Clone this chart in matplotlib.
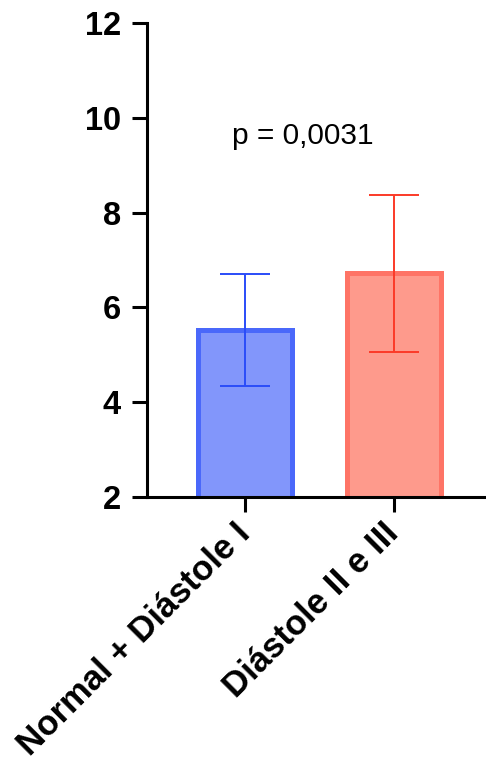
import numpy as np
import matplotlib.pyplot as plt

plt.rcParams['font.family'] = ['Liberation Sans', 'DejaVu Sans']

# === Data ===
groups = ["Normal + Diástole I", "Diástole II e III"]
means = [5.52, 6.72]
sds = [1.18, 1.65]
p_label = "p = 0,0031"

fill_colors = ["#8296fb", "#fe9a8c"]
edge_colors = ["#4a68fa", "#fe7466"]
err_colors = ["#2a4cf8", "#fb3a28"]

fig = plt.figure(figsize=(4.86, 7.66), dpi=100)
ax = fig.add_axes([0.302, 0.351, 0.698, 0.619])

x = np.arange(len(groups))
for i in range(len(groups)):
    ax.bar(x[i], means[i], width=0.63, color=fill_colors[i],
           edgecolor=edge_colors[i], linewidth=3.6, zorder=2)
    ax.errorbar(x[i], means[i], yerr=sds[i], color=err_colors[i],
                elinewidth=1.4, capsize=18, capthick=1.4, zorder=3)

ax.text(0.39, 9.62, p_label, ha='center', va='center', fontsize=21.5)

ax.set_ylim(2, 12)
ax.set_yticks([2, 4, 6, 8, 10, 12])
ax.set_xlim(-0.66, 1.62)
ax.set_xticks(x)
ax.set_xticklabels(groups, rotation=45, ha='right', va='center',
                   rotation_mode='anchor', fontsize=25, fontweight='bold')
for lbl in ax.get_yticklabels():
    lbl.set_fontweight('bold')
    lbl.set_fontsize(23.5)

for s in ['top', 'right']:
    ax.spines[s].set_visible(False)
for s in ['left', 'bottom']:
    ax.spines[s].set_linewidth(2.2)
ax.tick_params(axis='y', width=2.2, length=10.5, pad=8)
ax.tick_params(axis='x', width=2.2, length=10.5, pad=12)

fig.savefig("out.png", dpi=100)
